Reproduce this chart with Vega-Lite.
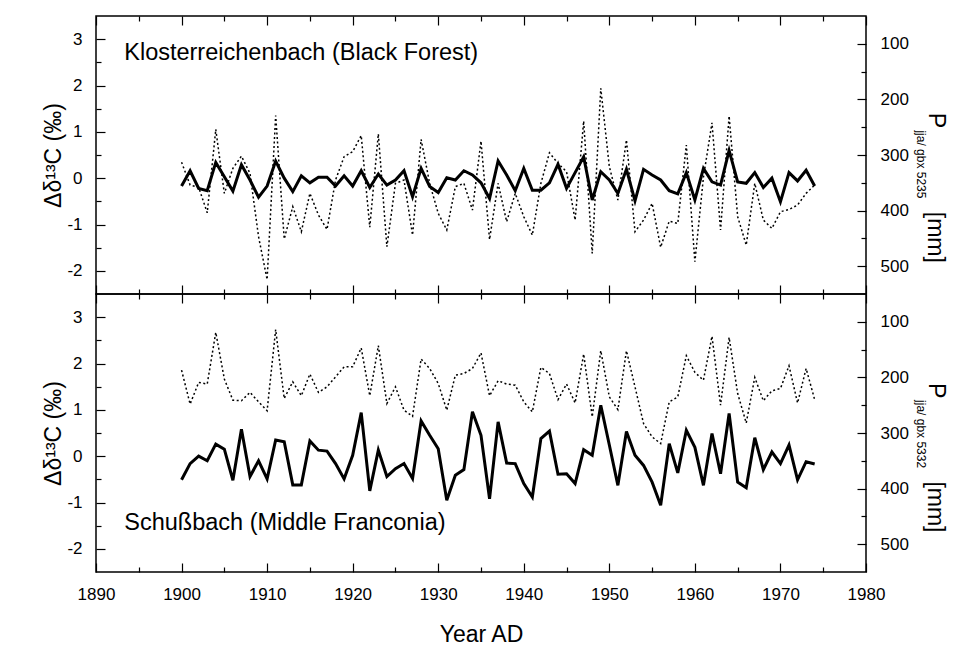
{
  "$schema": "https://vega.github.io/schema/vega-lite/v6.json",
  "background": "white",
  "padding": {"left": 42, "top": 14, "right": 12, "bottom": 0},
  "spacing": 0,
  "bounds": "flush",
  "config": {
    "font": "Liberation Sans",
    "view": {"stroke": "black", "strokeWidth": 1.5},
    "axis": {
      "domain": false,
      "grid": false,
      "tickColor": "black",
      "tickWidth": 1.2,
      "labelColor": "black",
      "labelFont": "Liberation Sans",
      "labelFontSize": 17,
      "labelOverlap": false,
      "labelFlush": false,
      "labelBound": false,
      "titleColor": "black",
      "titleFont": "Liberation Sans",
      "titleFontWeight": "normal"
    },
    "text": {"color": "black", "font": "Liberation Sans"}
  },
  "datasets": {
    "kloster": [
      {"year": 1900, "d13C": -0.17, "P": 313}, {"year": 1901, "d13C": 0.16, "P": 354},
      {"year": 1902, "d13C": -0.22, "P": 358}, {"year": 1903, "d13C": -0.27, "P": 404},
      {"year": 1904, "d13C": 0.34, "P": 254}, {"year": 1905, "d13C": 0.03, "P": 369},
      {"year": 1906, "d13C": -0.28, "P": 324}, {"year": 1907, "d13C": 0.29, "P": 302},
      {"year": 1908, "d13C": -0.04, "P": 333}, {"year": 1909, "d13C": -0.41, "P": 447},
      {"year": 1910, "d13C": -0.17, "P": 524}, {"year": 1911, "d13C": 0.37, "P": 229},
      {"year": 1912, "d13C": 0.0, "P": 451}, {"year": 1913, "d13C": -0.29, "P": 393},
      {"year": 1914, "d13C": 0.05, "P": 438}, {"year": 1915, "d13C": -0.1, "P": 369},
      {"year": 1916, "d13C": 0.02, "P": 408}, {"year": 1917, "d13C": 0.02, "P": 434},
      {"year": 1918, "d13C": -0.17, "P": 345}, {"year": 1919, "d13C": 0.05, "P": 303},
      {"year": 1920, "d13C": -0.17, "P": 294}, {"year": 1921, "d13C": 0.16, "P": 265},
      {"year": 1922, "d13C": -0.2, "P": 430}, {"year": 1923, "d13C": 0.09, "P": 262},
      {"year": 1924, "d13C": -0.15, "P": 465}, {"year": 1925, "d13C": -0.04, "P": 351},
      {"year": 1926, "d13C": 0.16, "P": 345}, {"year": 1927, "d13C": -0.4, "P": 444},
      {"year": 1928, "d13C": 0.21, "P": 272}, {"year": 1929, "d13C": -0.18, "P": 351},
      {"year": 1930, "d13C": -0.31, "P": 405}, {"year": 1931, "d13C": 0.01, "P": 435},
      {"year": 1932, "d13C": -0.04, "P": 357}, {"year": 1933, "d13C": 0.16, "P": 351},
      {"year": 1934, "d13C": 0.07, "P": 399}, {"year": 1935, "d13C": -0.1, "P": 275},
      {"year": 1936, "d13C": -0.44, "P": 452}, {"year": 1937, "d13C": 0.37, "P": 351},
      {"year": 1938, "d13C": 0.07, "P": 420}, {"year": 1939, "d13C": -0.27, "P": 369},
      {"year": 1940, "d13C": 0.21, "P": 411}, {"year": 1941, "d13C": -0.26, "P": 444},
      {"year": 1942, "d13C": -0.26, "P": 351}, {"year": 1943, "d13C": -0.1, "P": 296},
      {"year": 1944, "d13C": 0.3, "P": 315}, {"year": 1945, "d13C": -0.22, "P": 330},
      {"year": 1946, "d13C": 0.12, "P": 417}, {"year": 1947, "d13C": 0.46, "P": 239},
      {"year": 1948, "d13C": -0.47, "P": 477}, {"year": 1949, "d13C": 0.14, "P": 180},
      {"year": 1950, "d13C": -0.04, "P": 321}, {"year": 1951, "d13C": -0.33, "P": 381},
      {"year": 1952, "d13C": 0.19, "P": 273}, {"year": 1953, "d13C": -0.49, "P": 438},
      {"year": 1954, "d13C": 0.19, "P": 417}, {"year": 1955, "d13C": 0.07, "P": 387},
      {"year": 1956, "d13C": -0.04, "P": 466}, {"year": 1957, "d13C": -0.27, "P": 419},
      {"year": 1958, "d13C": -0.34, "P": 423}, {"year": 1959, "d13C": 0.12, "P": 282},
      {"year": 1960, "d13C": -0.47, "P": 492}, {"year": 1961, "d13C": 0.21, "P": 340},
      {"year": 1962, "d13C": -0.08, "P": 242}, {"year": 1963, "d13C": -0.15, "P": 435},
      {"year": 1964, "d13C": 0.6, "P": 230}, {"year": 1965, "d13C": -0.08, "P": 411},
      {"year": 1966, "d13C": -0.11, "P": 462}, {"year": 1967, "d13C": 0.12, "P": 351},
      {"year": 1968, "d13C": -0.2, "P": 417}, {"year": 1969, "d13C": 0.0, "P": 432},
      {"year": 1970, "d13C": -0.51, "P": 402}, {"year": 1971, "d13C": 0.12, "P": 398},
      {"year": 1972, "d13C": -0.06, "P": 390}, {"year": 1973, "d13C": 0.17, "P": 369},
      {"year": 1974, "d13C": -0.17, "P": 354}
    ],
    "schuss": [
      {"year": 1900, "d13C": -0.51, "P": 187}, {"year": 1901, "d13C": -0.16, "P": 248},
      {"year": 1902, "d13C": 0.0, "P": 209}, {"year": 1903, "d13C": -0.1, "P": 212},
      {"year": 1904, "d13C": 0.26, "P": 119}, {"year": 1905, "d13C": 0.15, "P": 203},
      {"year": 1906, "d13C": -0.52, "P": 241}, {"year": 1907, "d13C": 0.58, "P": 242},
      {"year": 1908, "d13C": -0.44, "P": 227}, {"year": 1909, "d13C": -0.1, "P": 244},
      {"year": 1910, "d13C": -0.49, "P": 260}, {"year": 1911, "d13C": 0.35, "P": 114},
      {"year": 1912, "d13C": 0.31, "P": 238}, {"year": 1913, "d13C": -0.62, "P": 208},
      {"year": 1914, "d13C": -0.62, "P": 233}, {"year": 1915, "d13C": 0.33, "P": 194},
      {"year": 1916, "d13C": 0.13, "P": 227}, {"year": 1917, "d13C": 0.11, "P": 217},
      {"year": 1918, "d13C": -0.16, "P": 199}, {"year": 1919, "d13C": -0.49, "P": 181},
      {"year": 1920, "d13C": 0.02, "P": 181}, {"year": 1921, "d13C": 0.94, "P": 147},
      {"year": 1922, "d13C": -0.75, "P": 233}, {"year": 1923, "d13C": 0.13, "P": 143},
      {"year": 1924, "d13C": -0.44, "P": 247}, {"year": 1925, "d13C": -0.27, "P": 217},
      {"year": 1926, "d13C": -0.16, "P": 259}, {"year": 1927, "d13C": -0.48, "P": 270},
      {"year": 1928, "d13C": 0.76, "P": 167}, {"year": 1929, "d13C": 0.45, "P": 184},
      {"year": 1930, "d13C": 0.16, "P": 211}, {"year": 1931, "d13C": -0.95, "P": 259},
      {"year": 1932, "d13C": -0.41, "P": 196}, {"year": 1933, "d13C": -0.29, "P": 193},
      {"year": 1934, "d13C": 0.96, "P": 184}, {"year": 1935, "d13C": 0.45, "P": 156},
      {"year": 1936, "d13C": -0.92, "P": 233}, {"year": 1937, "d13C": 0.74, "P": 206},
      {"year": 1938, "d13C": -0.15, "P": 212}, {"year": 1939, "d13C": -0.16, "P": 214},
      {"year": 1940, "d13C": -0.59, "P": 244}, {"year": 1941, "d13C": -0.88, "P": 262},
      {"year": 1942, "d13C": 0.38, "P": 182}, {"year": 1943, "d13C": 0.54, "P": 193},
      {"year": 1944, "d13C": -0.39, "P": 240}, {"year": 1945, "d13C": -0.38, "P": 212},
      {"year": 1946, "d13C": -0.59, "P": 246}, {"year": 1947, "d13C": 0.14, "P": 158},
      {"year": 1948, "d13C": 0.02, "P": 271}, {"year": 1949, "d13C": 1.1, "P": 152},
      {"year": 1950, "d13C": 0.24, "P": 235}, {"year": 1951, "d13C": -0.63, "P": 258},
      {"year": 1952, "d13C": 0.53, "P": 152}, {"year": 1953, "d13C": 0.02, "P": 217},
      {"year": 1954, "d13C": -0.2, "P": 283}, {"year": 1955, "d13C": -0.56, "P": 307},
      {"year": 1956, "d13C": -1.06, "P": 319}, {"year": 1957, "d13C": 0.27, "P": 244},
      {"year": 1958, "d13C": -0.36, "P": 235}, {"year": 1959, "d13C": 0.56, "P": 161},
      {"year": 1960, "d13C": 0.19, "P": 191}, {"year": 1961, "d13C": -0.63, "P": 205},
      {"year": 1962, "d13C": 0.49, "P": 126}, {"year": 1963, "d13C": -0.38, "P": 250},
      {"year": 1964, "d13C": 0.92, "P": 128}, {"year": 1965, "d13C": -0.56, "P": 229},
      {"year": 1966, "d13C": -0.68, "P": 282}, {"year": 1967, "d13C": 0.4, "P": 200},
      {"year": 1968, "d13C": -0.29, "P": 242}, {"year": 1969, "d13C": 0.09, "P": 224},
      {"year": 1970, "d13C": -0.16, "P": 220}, {"year": 1971, "d13C": 0.24, "P": 179},
      {"year": 1972, "d13C": -0.51, "P": 246}, {"year": 1973, "d13C": -0.12, "P": 184},
      {"year": 1974, "d13C": -0.17, "P": 240}
    ]
  },
  "vconcat": [
    {
      "width": 770,
      "height": 278,
      "data": {"name": "kloster"},
      "layer": [
        {
          "layer": [
            {
              "mark": {"type": "line", "stroke": "black", "strokeWidth": 3, "strokeJoin": "miter"},
              "encoding": {
                "x": {"field": "year", "type": "quantitative", "scale": {"domain": [1890, 1980], "nice": false, "zero": false},
                  "axis": {"orient": "bottom", "values": [1890, 1900, 1910, 1920, 1930, 1940, 1950, 1960, 1970, 1980],
                    "labels": false, "title": null, "tickSize": -9}},
                "y": {"field": "d13C", "type": "quantitative", "scale": {"domain": [-2.5, 3.5], "nice": false, "zero": false},
                  "axis": {"orient": "left", "values": [-2, -1, 0, 1, 2, 3], "labelExpr": "'' + datum.value",
                    "labelPadding": 23, "tickSize": -9,
                    "title": "Δδ¹³C (‰)", "titleFontSize": 23, "titlePadding": 1}}
              }
            },
            {
              "mark": {"type": "line", "strokeOpacity": 0},
              "encoding": {
                "x": {"field": "year", "type": "quantitative", "scale": {"domain": [1890, 1980], "nice": false, "zero": false},
                  "axis": {"orient": "bottom", "values": [1895, 1905, 1915, 1925, 1935, 1945, 1955, 1965, 1975],
                    "labels": false, "title": null, "tickSize": -5}},
                "y": {"field": "d13C", "type": "quantitative", "scale": {"domain": [-2.5, 3.5], "nice": false, "zero": false},
                  "axis": {"orient": "left", "values": [-1.5, -0.5, 0.5, 1.5, 2.5],
                    "labels": false, "title": null, "tickSize": -5}}
              }
            },
            {
              "data": {"values": [{}]},
              "mark": {"type": "text", "align": "left", "baseline": "middle", "fontSize": 23.5},
              "encoding": {
                "x": {"datum": 1893.3, "type": "quantitative", "scale": {"domain": [1890, 1980], "nice": false, "zero": false}, "axis": null},
                "y": {"datum": 2.7, "type": "quantitative", "scale": {"domain": [-2.5, 3.5], "nice": false, "zero": false}, "axis": null},
                "text": {"value": "Klosterreichenbach (Black Forest)"}
              }
            }
          ],
          "resolve": {"axis": {"x": "independent", "y": "independent"}}
        },
        {
          "layer": [
            {
              "mark": {"type": "line", "stroke": "black", "strokeWidth": 1.5, "strokeDash": [2, 2.5]},
              "encoding": {
                "x": {"field": "year", "type": "quantitative", "scale": {"domain": [1890, 1980], "nice": false, "zero": false},
                  "axis": {"orient": "top", "values": [1890, 1900, 1910, 1920, 1930, 1940, 1950, 1960, 1970, 1980],
                    "labels": false, "title": null, "tickSize": -9}},
                "y": {"field": "P", "type": "quantitative", "scale": {"domain": [50, 550], "reverse": true, "nice": false, "zero": false},
                  "axis": {"orient": "right", "values": [100, 200, 300, 400, 500], "labelExpr": "'' + datum.value",
                    "labelPadding": 23, "tickSize": -9, "title": null}}
              }
            },
            {
              "mark": {"type": "line", "strokeOpacity": 0},
              "encoding": {
                "x": {"field": "year", "type": "quantitative", "scale": {"domain": [1890, 1980], "nice": false, "zero": false},
                  "axis": {"orient": "top", "values": [1895, 1905, 1915, 1925, 1935, 1945, 1955, 1965, 1975],
                    "labels": false, "title": null, "tickSize": -5}},
                "y": {"field": "P", "type": "quantitative", "scale": {"domain": [50, 550], "reverse": true, "nice": false, "zero": false},
                  "axis": {"orient": "right", "values": [150, 250, 350, 450],
                    "labels": false, "title": null, "tickSize": -5}}
              }
            },
            {
              "data": {"values": [{}]},
              "mark": {"type": "text", "angle": 90, "align": "center", "baseline": "middle", "fontSize": 23},
              "encoding": {
                "x": {"datum": 1988.2, "type": "quantitative", "scale": {"domain": [1890, 1980], "nice": false, "zero": false}, "axis": null},
                "y": {"datum": 238, "type": "quantitative", "scale": {"domain": [50, 550], "reverse": true, "nice": false, "zero": false}, "axis": null},
                "text": {"value": "P"}
              }
            },
            {
              "data": {"values": [{}]},
              "mark": {"type": "text", "angle": 90, "align": "center", "baseline": "middle", "fontSize": 12},
              "encoding": {
                "x": {"datum": 1986.4, "type": "quantitative", "scale": {"domain": [1890, 1980], "nice": false, "zero": false}, "axis": null},
                "y": {"datum": 317, "type": "quantitative", "scale": {"domain": [50, 550], "reverse": true, "nice": false, "zero": false}, "axis": null},
                "text": {"value": "jja/ gbx 5235"}
              }
            },
            {
              "data": {"values": [{}]},
              "mark": {"type": "text", "angle": 90, "align": "center", "baseline": "middle", "fontSize": 23},
              "encoding": {
                "x": {"datum": 1988.1, "type": "quantitative", "scale": {"domain": [1890, 1980], "nice": false, "zero": false}, "axis": null},
                "y": {"datum": 448, "type": "quantitative", "scale": {"domain": [50, 550], "reverse": true, "nice": false, "zero": false}, "axis": null},
                "text": {"value": "[mm]"}
              }
            }
          ],
          "resolve": {"axis": {"x": "independent", "y": "independent"}}
        }
      ],
      "resolve": {"scale": {"y": "independent"}, "axis": {"x": "independent"}}
    },
    {
      "width": 770,
      "height": 278,
      "data": {"name": "schuss"},
      "layer": [
        {
          "layer": [
            {
              "mark": {"type": "line", "stroke": "black", "strokeWidth": 3, "strokeJoin": "miter"},
              "encoding": {
                "x": {"field": "year", "type": "quantitative", "scale": {"domain": [1890, 1980], "nice": false, "zero": false},
                  "axis": {"orient": "bottom", "values": [1890, 1900, 1910, 1920, 1930, 1940, 1950, 1960, 1970, 1980],
                    "labelExpr": "'' + datum.value", "labelPadding": 23, "tickSize": -9,
                    "title": "Year AD", "titleFontSize": 23, "titlePadding": 21}},
                "y": {"field": "d13C", "type": "quantitative", "scale": {"domain": [-2.5, 3.5], "nice": false, "zero": false},
                  "axis": {"orient": "left", "values": [-2, -1, 0, 1, 2, 3], "labelExpr": "'' + datum.value",
                    "labelPadding": 23, "tickSize": -9,
                    "title": "Δδ¹³C (‰)", "titleFontSize": 23, "titlePadding": 1}}
              }
            },
            {
              "mark": {"type": "line", "strokeOpacity": 0},
              "encoding": {
                "x": {"field": "year", "type": "quantitative", "scale": {"domain": [1890, 1980], "nice": false, "zero": false},
                  "axis": {"orient": "bottom", "values": [1895, 1905, 1915, 1925, 1935, 1945, 1955, 1965, 1975],
                    "labels": false, "title": null, "tickSize": -5}},
                "y": {"field": "d13C", "type": "quantitative", "scale": {"domain": [-2.5, 3.5], "nice": false, "zero": false},
                  "axis": {"orient": "left", "values": [-1.5, -0.5, 0.5, 1.5, 2.5],
                    "labels": false, "title": null, "tickSize": -5}}
              }
            },
            {
              "data": {"values": [{}]},
              "mark": {"type": "text", "align": "left", "baseline": "middle", "fontSize": 23.5},
              "encoding": {
                "x": {"datum": 1893.3, "type": "quantitative", "scale": {"domain": [1890, 1980], "nice": false, "zero": false}, "axis": null},
                "y": {"datum": -1.45, "type": "quantitative", "scale": {"domain": [-2.5, 3.5], "nice": false, "zero": false}, "axis": null},
                "text": {"value": "Schußbach (Middle Franconia)"}
              }
            }
          ],
          "resolve": {"axis": {"x": "independent", "y": "independent"}}
        },
        {
          "layer": [
            {
              "mark": {"type": "line", "stroke": "black", "strokeWidth": 1.5, "strokeDash": [2, 2.5]},
              "encoding": {
                "x": {"field": "year", "type": "quantitative", "scale": {"domain": [1890, 1980], "nice": false, "zero": false},
                  "axis": {"orient": "top", "values": [1890, 1900, 1910, 1920, 1930, 1940, 1950, 1960, 1970, 1980],
                    "labels": false, "title": null, "tickSize": -9}},
                "y": {"field": "P", "type": "quantitative", "scale": {"domain": [50, 550], "reverse": true, "nice": false, "zero": false},
                  "axis": {"orient": "right", "values": [100, 200, 300, 400, 500], "labelExpr": "'' + datum.value",
                    "labelPadding": 23, "tickSize": -9, "title": null}}
              }
            },
            {
              "mark": {"type": "line", "strokeOpacity": 0},
              "encoding": {
                "x": {"field": "year", "type": "quantitative", "scale": {"domain": [1890, 1980], "nice": false, "zero": false},
                  "axis": {"orient": "top", "values": [1895, 1905, 1915, 1925, 1935, 1945, 1955, 1965, 1975],
                    "labels": false, "title": null, "tickSize": -5}},
                "y": {"field": "P", "type": "quantitative", "scale": {"domain": [50, 550], "reverse": true, "nice": false, "zero": false},
                  "axis": {"orient": "right", "values": [150, 250, 350, 450],
                    "labels": false, "title": null, "tickSize": -5}}
              }
            },
            {
              "data": {"values": [{}]},
              "mark": {"type": "text", "angle": 90, "align": "center", "baseline": "middle", "fontSize": 23},
              "encoding": {
                "x": {"datum": 1988.2, "type": "quantitative", "scale": {"domain": [1890, 1980], "nice": false, "zero": false}, "axis": null},
                "y": {"datum": 224, "type": "quantitative", "scale": {"domain": [50, 550], "reverse": true, "nice": false, "zero": false}, "axis": null},
                "text": {"value": "P"}
              }
            },
            {
              "data": {"values": [{}]},
              "mark": {"type": "text", "angle": 90, "align": "center", "baseline": "middle", "fontSize": 12},
              "encoding": {
                "x": {"datum": 1986.4, "type": "quantitative", "scale": {"domain": [1890, 1980], "nice": false, "zero": false}, "axis": null},
                "y": {"datum": 302, "type": "quantitative", "scale": {"domain": [50, 550], "reverse": true, "nice": false, "zero": false}, "axis": null},
                "text": {"value": "jja/ gbx 5332"}
              }
            },
            {
              "data": {"values": [{}]},
              "mark": {"type": "text", "angle": 90, "align": "center", "baseline": "middle", "fontSize": 23},
              "encoding": {
                "x": {"datum": 1988.1, "type": "quantitative", "scale": {"domain": [1890, 1980], "nice": false, "zero": false}, "axis": null},
                "y": {"datum": 433, "type": "quantitative", "scale": {"domain": [50, 550], "reverse": true, "nice": false, "zero": false}, "axis": null},
                "text": {"value": "[mm]"}
              }
            }
          ],
          "resolve": {"axis": {"x": "independent", "y": "independent"}}
        }
      ],
      "resolve": {"scale": {"y": "independent"}, "axis": {"x": "independent"}}
    }
  ]
}
